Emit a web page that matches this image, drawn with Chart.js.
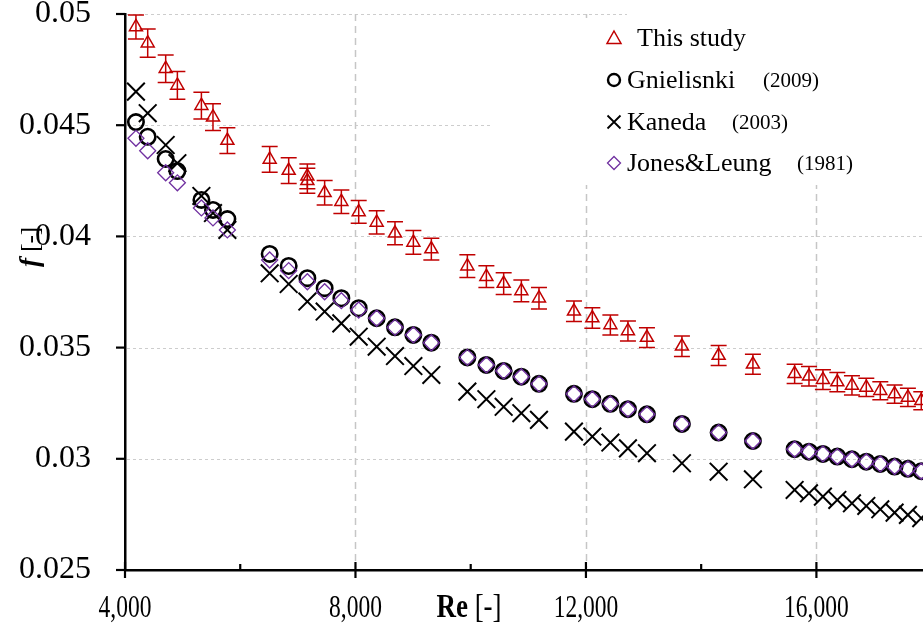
<!DOCTYPE html>
<html><head><meta charset="utf-8">
<script src="https://cdn.jsdelivr.net/npm/chart.js@4.4.1/dist/chart.umd.min.js"></script>
<style>html,body{margin:0;padding:0;background:#fff;overflow:hidden}#wrap{position:relative;width:923px;height:628px}</style>
</head><body><div id="wrap"><canvas id="c" width="923" height="628"></canvas></div>
<script>
// ---- data ----
const reStudy = [4190,4394,4706,4909,5326,5527,5777,6511,6841,7165,7165,7465,7755,8056,8368,8686,9005,9317,9942,10272,10572,10879,11185,11792,12111,12424,12729,13059,13666,14303,14898,15622,15871,16113,16363,16617,16866,17109,17357,17588,17820];
const fStudy = [0.04942,0.04869,0.04754,0.04679,0.04588,0.04536,0.04431,0.04346,0.04296,0.04270,0.04250,0.04196,0.04156,0.04110,0.04063,0.04014,0.03973,0.03943,0.03866,0.03819,0.03788,0.03755,0.03722,0.03663,0.03633,0.03602,0.03575,0.03545,0.03506,0.03464,0.03425,0.03382,0.03371,0.03356,0.03345,0.03330,0.03321,0.03306,0.03291,0.03276,0.03261];
const fStudyErr = [0.00054,0.00063,0.00062,0.00062,0.00060,0.00060,0.00058,0.00058,0.00058,0.00056,0.00056,0.00055,0.00053,0.00051,0.00052,0.00052,0.00053,0.00049,0.00051,0.00049,0.00049,0.00049,0.00048,0.00046,0.00046,0.00045,0.00045,0.00044,0.00046,0.00045,0.00045,0.00043,0.00044,0.00044,0.00043,0.00043,0.00041,0.00041,0.00041,0.00041,0.00041];
const reModel = [4190,4394,4706,4909,5326,5527,5777,6511,6841,7165,7465,7755,8056,8368,8686,9005,9317,9942,10272,10572,10879,11185,11792,12111,12424,12729,13059,13666,14303,14898,15622,15871,16113,16363,16617,16866,17109,17357,17588,17820];
const fGnielinski = [0.04514,0.04448,0.04348,0.04294,0.04164,0.04119,0.04078,0.03921,0.03867,0.03812,0.03767,0.03722,0.03677,0.03632,0.03591,0.03557,0.03522,0.03456,0.03422,0.03395,0.03369,0.03337,0.03292,0.03268,0.03247,0.03223,0.03200,0.03157,0.03118,0.03080,0.03043,0.03032,0.03022,0.03010,0.02998,0.02987,0.02977,0.02965,0.02955,0.02944];
const fKaneda = [0.04651,0.04554,0.04411,0.04329,0.04182,0.04105,0.04029,0.03834,0.03786,0.03707,0.03662,0.03609,0.03549,0.03504,0.03462,0.03417,0.03377,0.03302,0.03268,0.03234,0.03205,0.03175,0.03122,0.03100,0.03073,0.03047,0.03025,0.02980,0.02942,0.02908,0.02860,0.02845,0.02830,0.02815,0.02800,0.02788,0.02773,0.02758,0.02748,0.02733];
const fJonesLeung = [0.04441,0.04385,0.04286,0.04241,0.04128,0.04083,0.04029,0.03894,0.03846,0.03796,0.03751,0.03711,0.03669,0.03632,0.03591,0.03557,0.03522,0.03456,0.03422,0.03395,0.03369,0.03337,0.03292,0.03268,0.03247,0.03223,0.03200,0.03157,0.03118,0.03080,0.03043,0.03032,0.03022,0.03010,0.02998,0.02987,0.02977,0.02965,0.02955,0.02944];
const xMajorTicks = [4000,8000,12000,16000];
const xMinorTicks = [6000,10000,14000];
const yTickValues = [0.025,0.03,0.035,0.04,0.045,0.05];
const legendNames = ['This study','Gnielisnki','Kaneda','Jones&Leung'];
const legendYears = ['','(2009)','(2003)','(1981)'];
const xTitle = ['Re',' [-]'];
const yTitle = ['f',' [-]'];

const RED = '#C00000', PURPLE = '#7030A0';
const SERIF = "'Liberation Serif','Times New Roman',serif";

function pts(xs, ys){ return xs.map((v,i)=>({x:v,y:ys[i]})); }
function noPad(s){ s.paddingLeft=0; s.paddingRight=0; s.paddingTop=0; s.paddingBottom=0; }

const overlay = {
  id:'overlay',
  beforeDatasetsDraw(chart){
    const {ctx, chartArea:a, scales:{x,y}} = chart;
    ctx.save();
    ctx.strokeStyle='#cdcdcd'; ctx.lineWidth=1; ctx.setLineDash([3,3]);
    yTickValues.forEach(v=>{
      if (v===yTickValues[0]) return;
      const py=Math.round(y.getPixelForValue(v))+0.5;
      ctx.beginPath(); ctx.moveTo(a.left+2,py); ctx.lineTo(a.right,py); ctx.stroke();
    });
    ctx.strokeStyle='#c6c6c6'; ctx.lineWidth=1.5; ctx.setLineDash([7,5]);
    xMajorTicks.forEach(v=>{
      if (v===xMajorTicks[0]) return;
      const px=Math.round(x.getPixelForValue(v))+0.5;
      ctx.beginPath(); ctx.moveTo(px,a.top); ctx.lineTo(px,a.bottom-2); ctx.stroke();
    });
    ctx.setLineDash([]);
    ctx.fillStyle='#fff'; ctx.fillRect(490,18,433,167); ctx.fillRect(627,8,296,12);
    ctx.strokeStyle=RED; ctx.lineWidth=1.5;
    reStudy.forEach((r,i)=>{
      const px=x.getPixelForValue(r);
      const t=y.getPixelForValue(fStudy[i]+fStudyErr[i]);
      const b=y.getPixelForValue(fStudy[i]-fStudyErr[i]);
      ctx.beginPath();
      ctx.moveTo(px,t); ctx.lineTo(px,b);
      ctx.moveTo(px-8,t); ctx.lineTo(px+8,t);
      ctx.moveTo(px-8,b); ctx.lineTo(px+8,b);
      ctx.stroke();
    });
    ctx.restore();
  },
  afterDraw(chart){
    const {ctx, chartArea:a, scales:{x,y}} = chart;
    ctx.save();
    ctx.strokeStyle='#000'; ctx.lineWidth=2.2;
    yTickValues.forEach(v=>{
      const py=y.getPixelForValue(v);
      ctx.beginPath(); ctx.moveTo(a.left-9,py); ctx.lineTo(a.left,py); ctx.stroke();
    });
    xMajorTicks.forEach(v=>{
      const px=x.getPixelForValue(v);
      ctx.beginPath(); ctx.moveTo(px,a.bottom-8); ctx.lineTo(px,a.bottom+8); ctx.stroke();
    });
    xMinorTicks.forEach(v=>{
      const px=x.getPixelForValue(v);
      ctx.beginPath(); ctx.moveTo(px,a.bottom-6); ctx.lineTo(px,a.bottom); ctx.stroke();
    });
    ctx.fillStyle='#000'; ctx.textBaseline='alphabetic';
    ctx.textAlign='center'; ctx.font='23.5px '+SERIF;
    xMajorTicks.forEach(v=>{
      const px=x.getPixelForValue(v);
      ctx.save(); ctx.translate(px,617); ctx.scale(1,1.32);
      ctx.fillText(v.toLocaleString('en-US'),0,0); ctx.restore();
    });
    ctx.textAlign='left';
    function mixed(parts, fonts, cx, cy){
      let w=0; const ws=parts.map((p,i)=>{ctx.font=fonts[i]; const m=ctx.measureText(p).width; w+=m; return m;});
      let sx=cx-w/2;
      parts.forEach((p,i)=>{ctx.font=fonts[i]; ctx.fillText(p,sx,cy); sx+=ws[i];});
    }
    ctx.save(); ctx.translate(469,617); ctx.scale(1,1.25);
    mixed(xTitle, ['bold 27px '+SERIF, '27px '+SERIF], 0, 0);
    ctx.restore();
    ctx.save(); ctx.translate(38,247); ctx.rotate(-Math.PI/2);
    mixed(yTitle, ['italic bold 27px '+SERIF, '25px '+SERIF], 0, 0);
    ctx.restore();
    const lx=614, rows=[38,80,122,163];
    ctx.strokeStyle=RED; ctx.lineWidth=1.5;
    ctx.beginPath(); ctx.moveTo(lx,rows[0]-7); ctx.lineTo(lx+7,rows[0]+5.5); ctx.lineTo(lx-7,rows[0]+5.5); ctx.closePath(); ctx.stroke();
    ctx.strokeStyle='#000'; ctx.lineWidth=2.4;
    ctx.beginPath(); ctx.arc(lx,rows[1],6,0,Math.PI*2); ctx.stroke();
    ctx.lineWidth=1.8;
    ctx.beginPath(); ctx.moveTo(lx-6.5,rows[2]-6.5); ctx.lineTo(lx+6.5,rows[2]+6.5); ctx.moveTo(lx+6.5,rows[2]-6.5); ctx.lineTo(lx-6.5,rows[2]+6.5); ctx.stroke();
    ctx.strokeStyle=PURPLE; ctx.lineWidth=1.3;
    ctx.beginPath(); ctx.moveTo(lx,rows[3]-6.5); ctx.lineTo(lx+6.5,rows[3]); ctx.lineTo(lx,rows[3]+6.5); ctx.lineTo(lx-6.5,rows[3]); ctx.closePath(); ctx.stroke();
    ctx.fillStyle='#000';
    const nameX=[637,627,627,627], yearX=[0,763,732,797];
    legendNames.forEach((n,i)=>{
      ctx.font='26px '+SERIF; ctx.fillText(n,nameX[i],rows[i]+8);
      if (legendYears[i]) { ctx.font='21px '+SERIF; ctx.fillText(legendYears[i],yearX[i],rows[i]+7); }
    });
    ctx.restore();
  }
};

new Chart(document.getElementById('c'), {
  type:'scatter',
  data:{ datasets:[
    {label:'This study', data:pts(reStudy,fStudy), pointStyle:'triangle', pointRadius:7.5, borderColor:RED, backgroundColor:'rgba(0,0,0,0)', borderWidth:1.5, order:0},
    {label:'Jones&Leung (1981)', data:pts(reModel,fJonesLeung), pointStyle:'rectRot', pointRadius:8, borderColor:PURPLE, backgroundColor:'rgba(0,0,0,0)', borderWidth:1.3, order:1},
    {label:'Kaneda (2003)', data:pts(reModel,fKaneda), pointStyle:'crossRot', pointRadius:12.5, borderColor:'#000', backgroundColor:'rgba(0,0,0,0)', borderWidth:2, order:2},
    {label:'Gnielisnki (2009)', data:pts(reModel,fGnielinski), pointStyle:'circle', pointRadius:7.7, borderColor:'#000', backgroundColor:'rgba(0,0,0,0)', borderWidth:2.6, order:3}
  ]},
  options:{
    responsive:false, animation:false, devicePixelRatio:1,
    layout:{autoPadding:false, padding:{top:14,right:0,left:0,bottom:0}},
    plugins:{legend:{display:false}, tooltip:{enabled:false}},
    events:[],
    scales:{
      x:{ type:'linear', min:4000, max:17850,
        afterFit:s=>{s.height=58; noPad(s);},
        afterBuildTicks:s=>{s.ticks=xMajorTicks.map(v=>({value:v}));},
        grid:{display:false, drawTicks:false},
        border:{display:true, color:'#000', width:2.5},
        ticks:{display:false}
      },
      y:{ type:'linear', min:0.025, max:0.05,
        afterFit:s=>{s.width=125; noPad(s);},
        afterBuildTicks:s=>{s.ticks=yTickValues.map(v=>({value:v}));},
        grid:{display:false, drawTicks:false},
        border:{display:true, color:'#000', width:2.5},
        ticks:{padding:34, color:'#000', font:{family:SERIF,size:32},
          callback:v=>String(+v.toFixed(3))}
      }
    }
  },
  plugins:[overlay]
});
</script></body></html>
